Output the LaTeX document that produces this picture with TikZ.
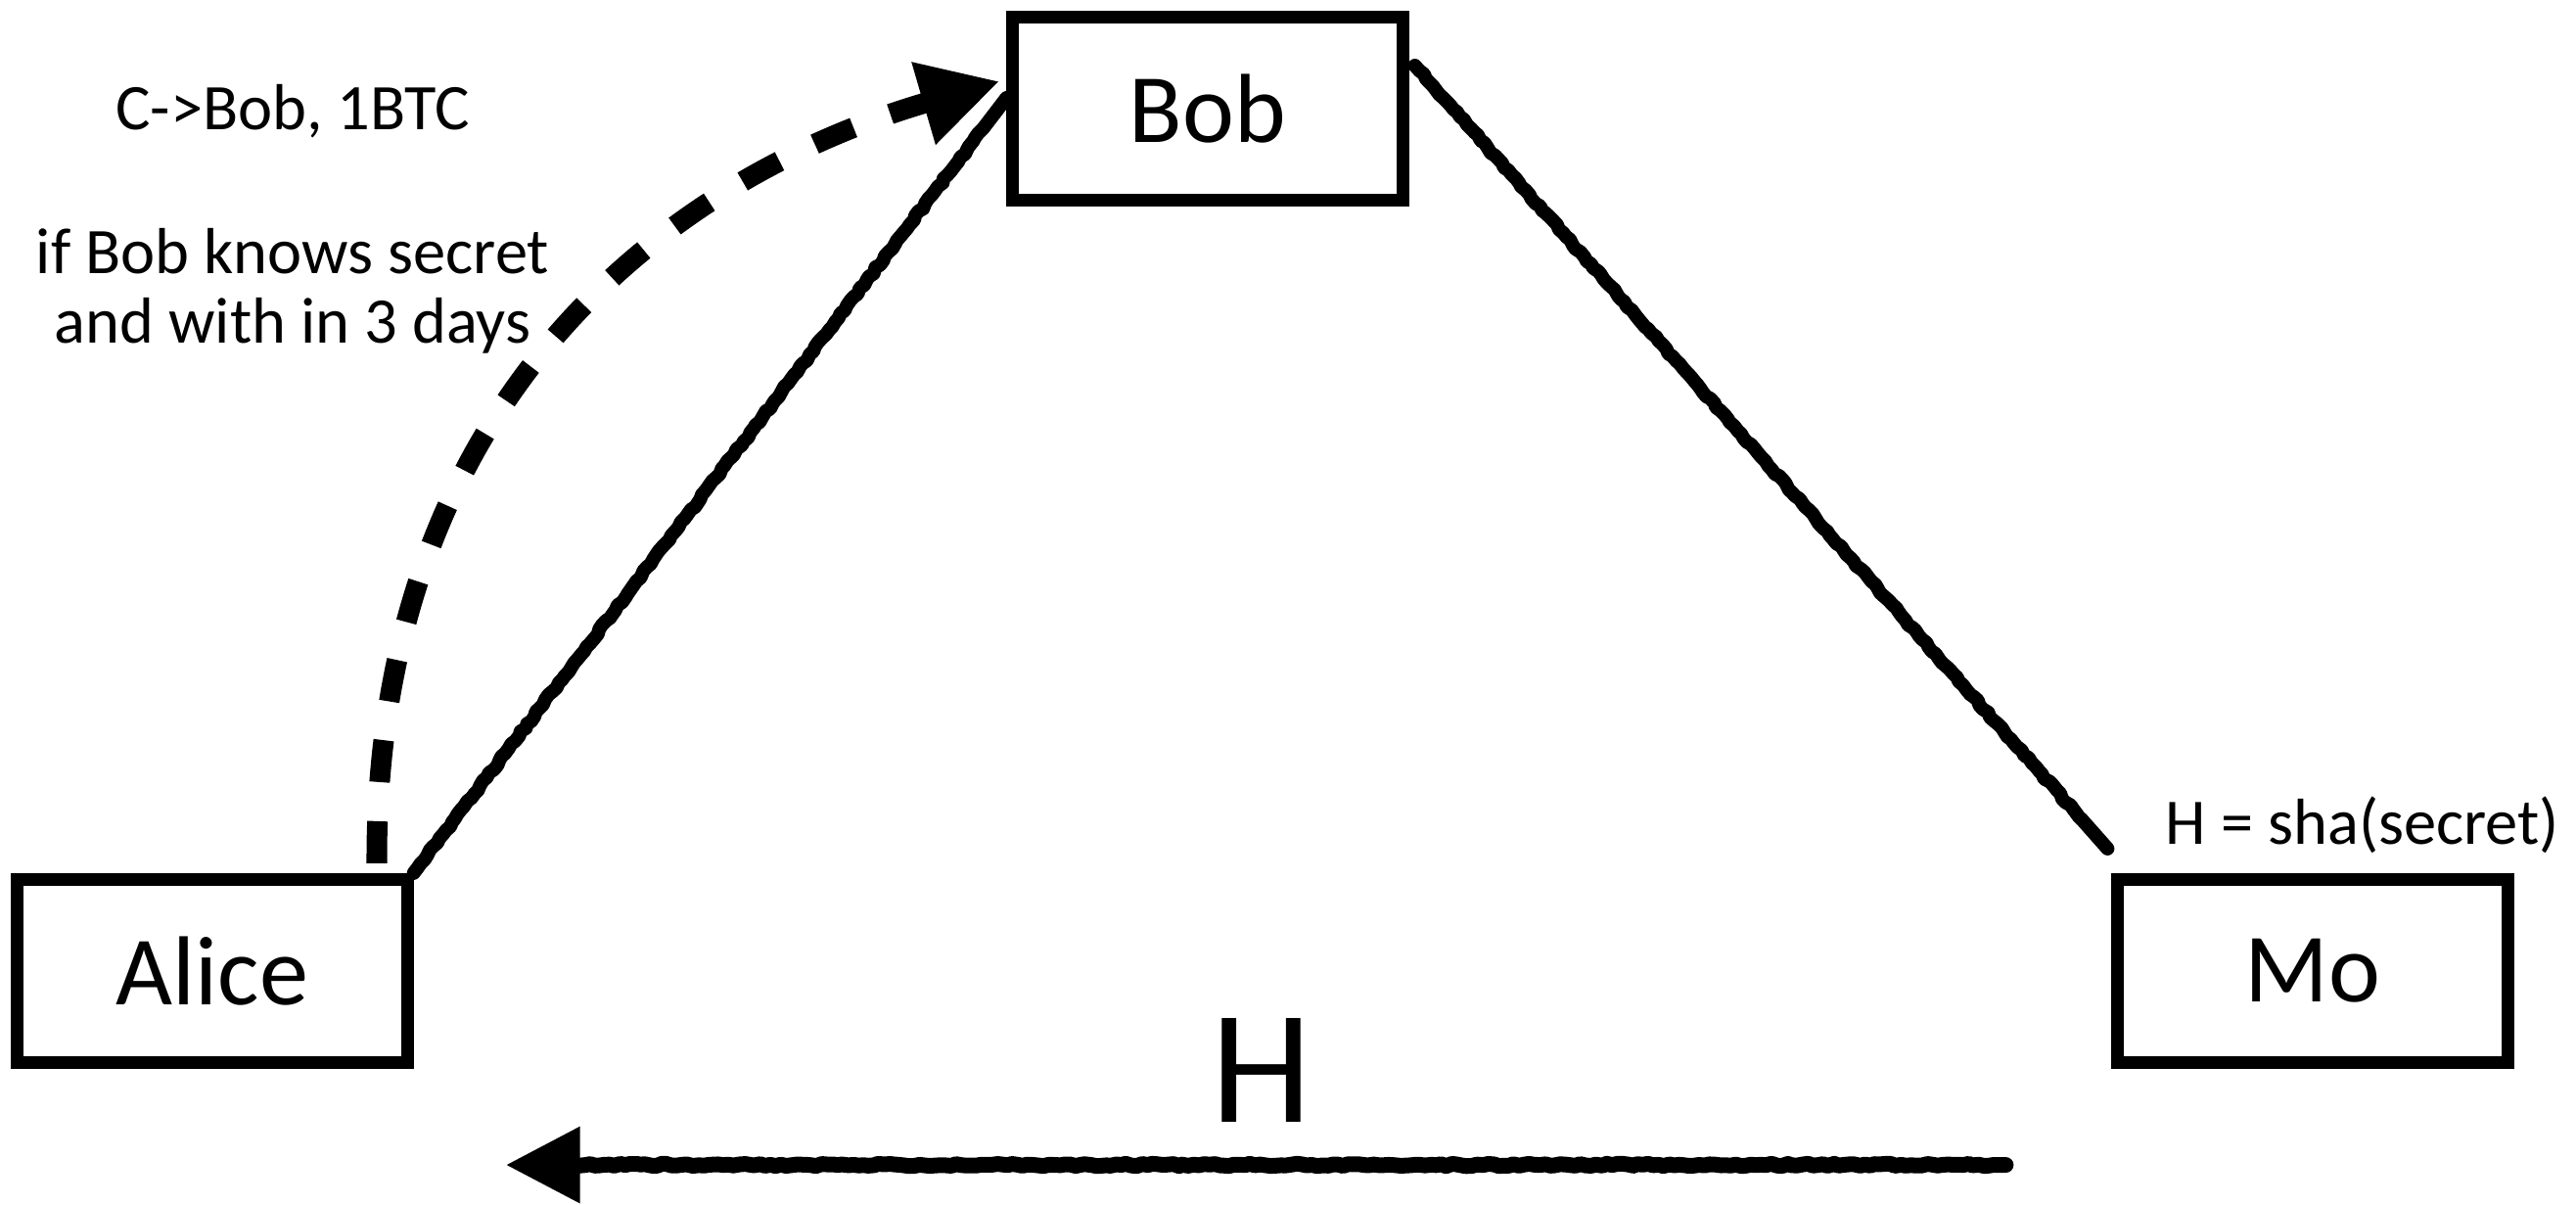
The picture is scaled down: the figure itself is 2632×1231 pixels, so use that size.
\documentclass[tikz,border=0pt]{standalone}
\usepackage{fontspec}
\setmainfont{Carlito}
\usetikzlibrary{arrows.meta,calc,decorations.pathmorphing}
\begin{document}
\pgfmathsetseed{7}
\begin{tikzpicture}[x=0.01cm,y=-0.01cm,
  box/.style={draw,line width=0.13cm,minimum width=3.98cm,minimum height=1.87cm,inner sep=0pt,font=\fontsize{28.5}{34}\selectfont},
  note/.style={font=\fontsize{18.9}{23}\selectfont,anchor=base,inner sep=0pt},
  rough/.style={line width=0.14cm,line join=round,line cap=round,decorate,decoration={random steps,segment length=1.5pt,amplitude=0.35pt,pre=lineto,pre length=2pt,post=lineto,post length=0.4cm}},
  dashedarrow/.style={line width=0.21cm,dash pattern=on 0.43cm off 0.40cm,-{Triangle[length=0.81cm,width=0.82cm]}}
]
\useasboundingbox (0,0) rectangle (2632,1231);
\node[box] (Bob) at (1234,111) {Bob};
\node[box] (Alice) at (217,992) {Alice};
\node[box] (Mo) at (2363,992) {Mo};
\node[note] (c1) at (299,133) {C->Bob, 1BTC};
\node[note] (c2) at (299,280) {if Bob knows secret};
\node[note] (c3) at (299,351) {and with in 3 days};
\node[note] (hs) at (2414,863) {H = sha(secret)};
\node[font=\fontsize{47}{56}\selectfont,anchor=base,inner sep=0pt] (H) at (1289,1147) {H};
\draw[rough] (Alice.north east) -- ($(Bob.west)+(0,-11)$);
\draw[rough] ($(Bob.east)+(6,-44)$) -- ($(Mo.north west)+(-4,-25)$);
\draw[rough,line width=0.16cm,-{Triangle[length=0.76cm,width=0.74cm]}] ($(Mo.south west)+(-108,98)$) -- ($(Alice.south east)+(94,98)$);
\draw[dashedarrow] ($(Alice.north)+(168,-10)$) .. controls (383,420) and (671,185) .. ($(Bob.west)+(-7,-28)$);
\end{tikzpicture}
\end{document}
